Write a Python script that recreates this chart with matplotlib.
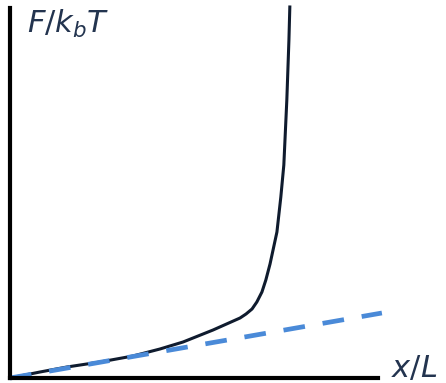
import matplotlib
matplotlib.use("Agg")
import matplotlib.pyplot as plt

# force-extension sketch, values (arbitrary units)
ext_wlc = [0.0, 0.1, 0.19, 0.3, 0.41, 0.5, 0.577, 0.677, 0.767, 0.787, 0.807, 0.823,
           0.84, 0.853, 0.867, 0.89, 0.903, 0.913, 0.923, 0.93, 0.933]
force_wlc = [0.0, 0.06, 0.11, 0.16, 0.22, 0.29, 0.36, 0.48, 0.60, 0.64, 0.69, 0.76,
             0.86, 0.98, 1.14, 1.46, 1.81, 2.13, 2.78, 3.38, 3.71]
ext_lin = [0.0, 1.24]
force_lin = [0.0, 0.65]

fig = plt.figure(figsize=(4.46, 3.83), dpi=100)
ax = fig.add_axes([10/446, 5/383, 368/446, 370/383])
ax.plot(ext_wlc, force_wlc, color='#0f1b2e', lw=2.2, solid_joinstyle='round', clip_on=False)
ax.plot(ext_lin, force_lin, color='#4a8ad8', lw=3.4, ls=(0, (4.6, 3.8)), clip_on=False)
ax.set_xlim(0, 1.227)
ax.set_ylim(0, 3.7)
for s in ['top', 'right']:
    ax.spines[s].set_visible(False)
for s in ['left', 'bottom']:
    ax.spines[s].set_linewidth(3)
    ax.spines[s].set_color('black')
ax.set_xticks([])
ax.set_yticks([])

plt.rcParams['mathtext.fontset'] = 'dejavusans'
fig.text(27/446, 1 - 33/383, r'$F/k_bT$', fontsize=22, color='#23344f', va='baseline')
fig.text(391/446, 1 - 377/383, r'$x/L$', fontsize=22, color='#23344f', va='baseline')

fig.savefig('out.png', dpi=100)
